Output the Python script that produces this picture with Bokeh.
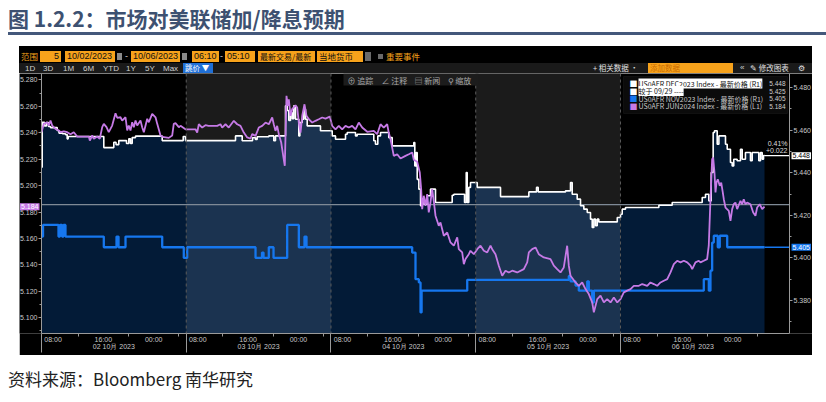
from bokeh.plotting import figure
from bokeh.models import (Range1d, LinearAxis, FixedTicker, SingleIntervalTicker,
                          NumeralTickFormatter, CustomJSTickFormatter, Span, Label,
                          BoxAnnotation, Div)
from bokeh.layouts import column
from bokeh.embed import file_html
from bokeh.resources import INLINE

# ---------------- data ----------------
# time axis: session hours since 02 Oct 2023 06:10 (each session 06:10-05:10 = 23 h)
SESSION_HOURS = 23
SESSION_START_MIN = 6 * 60 + 10
day_labels = ["02 10月 2023", "03 10月 2023", "04 10月 2023", "05 10月 2023", "06 10月 2023"]
time_label_clock = [8, 16, 0]
minor_tick_clock = [12, 20, 4]

# US0AFR DEC2023 Index (R1)
dec_t = [0.00, 0.11, 0.48, 0.79, 1.11, 1.43, 2.49, 2.78, 3.34, 3.81, 4.08, 4.24, 9.90, 11.49,
         11.84, 12.28, 13.51, 13.87, 14.14, 14.41, 14.94, 19.18, 22.52, 22.88, 30.83, 31.89,
         33.53, 34.01, 34.27, 36.12, 36.91, 37.18, 38.77, 39.04, 39.30, 39.57, 39.84, 40.09,
         40.36, 40.89, 41.05, 41.43, 41.68, 41.95, 42.22, 44.33, 46.19, 46.72, 48.31, 48.58,
         49.90, 50.16, 52.80, 53.07, 53.44, 53.87, 55.18, 55.73, 59.16, 59.32, 59.54, 59.70,
         59.96, 60.23, 60.49, 60.75, 61.29, 61.81, 62.61, 65.26, 65.52, 67.22, 67.49, 67.65,
         67.90, 68.17, 69.24, 72.94, 77.44, 78.66, 78.93, 83.27, 84.06, 84.33, 85.12, 85.65,
         86.18, 86.72, 87.24, 87.51, 87.77, 88.04, 88.31, 88.56, 91.49, 92.01, 92.28, 92.80,
         98.10, 100.22, 104.99, 105.51, 106.04, 106.42, 106.73, 106.94, 107.37, 107.64,
         108.69, 108.96, 109.48, 109.75, 110.00, 110.54, 111.07, 111.34, 111.86, 112.66,
         112.93, 113.98, 114.25, 114.52, 114.73, 114.89]
dec_v = [5.4426, 5.4637, 5.4620, 5.4636, 5.4617, 5.4612, 5.4598, 5.4586, 5.4583, 5.4579, 5.4559,
         5.4570, 5.4518, 5.4543, 5.4532, 5.4551, 5.4537, 5.4559, 5.4537, 5.4565, 5.4572, 5.4551,
         5.4570, 5.4551, 5.4573, 5.4550, 5.4564, 5.4556, 5.4569, 5.4573, 5.4550, 5.4573, 5.4714,
         5.4692, 5.4645, 5.4683, 5.4654, 5.4714, 5.4651, 5.4573, 5.4636, 5.4651, 5.4698, 5.4651,
         5.4620, 5.4597, 5.4573, 5.4557, 5.4581, 5.4589, 5.4573, 5.4581, 5.4550, 5.4534, 5.4573,
         5.4589, 5.4565, 5.4526, 5.4542, 5.4432, 5.4495, 5.4369, 5.4323, 5.4245, 5.4276, 5.4252,
         5.4292, 5.4323, 5.4260, 5.4294, 5.4299, 5.4260, 5.4401, 5.4260, 5.4331, 5.4354, 5.4331,
         5.4288, 5.4310, 5.4331, 5.4310, 5.4315, 5.4354, 5.4299, 5.4276, 5.4245, 5.4229, 5.4213,
         5.4182, 5.4143, 5.4182, 5.4151, 5.4182, 5.4169, 5.4190, 5.4205, 5.4229, 5.4237, 5.4247,
         5.4260, 5.4284, 5.4299, 5.4268, 5.4401, 5.4589, 5.4597, 5.4534, 5.4573, 5.4534, 5.4510,
         5.4448, 5.4432, 5.4463, 5.4456, 5.4510, 5.4463, 5.4495, 5.4456, 5.4495, 5.4456, 5.4495,
         5.4463, 5.4481, 5.4480]

# US0AFR NOV2023 Index (R1)
nov_t = [0.00, 0.24, 2.70, 2.94, 3.26, 3.50, 3.81, 9.90, 11.92, 12.24, 13.35, 19.18, 22.61,
         23.15, 34.01, 35.04, 35.28, 36.12, 36.87, 39.04, 40.89, 41.79, 42.11, 58.90, 59.43,
         59.96, 60.23, 60.40, 67.65, 83.79, 84.06, 84.86, 85.38, 86.72, 86.97, 87.51, 87.77,
         105.24, 106.04, 106.30, 106.57, 106.83, 107.46, 107.78, 108.96, 114.89]
nov_v = [5.4100, 5.4155, 5.4100, 5.4155, 5.4100, 5.4155, 5.4100, 5.4050, 5.4100, 5.4050, 5.4100,
         5.4050, 5.4000, 5.4050, 5.4000, 5.4025, 5.4000, 5.4050, 5.4000, 5.4155, 5.4050, 5.4100,
         5.4050, 5.4025, 5.3900, 5.3885, 5.3744, 5.3846, 5.3897, 5.3915, 5.3890, 5.3870, 5.3846,
         5.3890, 5.3846, 5.3790, 5.3846, 5.3900, 5.3846, 5.3940, 5.4072, 5.4104, 5.4050, 5.4104,
         5.4050, 5.4050]

# US0AFR JUN2024 Index (L1)
jun_t = [0.00, 0.37, 0.91, 1.16, 1.43, 1.70, 2.22, 2.75, 3.02, 3.54, 4.08, 4.61, 5.13, 5.67,
         7.52, 7.68, 8.06, 8.31, 8.85, 9.26, 9.65, 9.90, 10.33, 10.69, 11.23, 11.76, 12.03,
         12.55, 12.82, 13.35, 13.62, 13.87, 14.14, 14.41, 14.67, 14.94, 15.21, 15.73, 16.00,
         16.26, 16.53, 16.80, 17.05, 17.59, 18.12, 18.39, 18.91, 19.43, 20.23, 20.77, 21.02,
         21.29, 21.82, 22.09, 22.88, 23.15, 24.47, 24.74, 25.00, 25.53, 26.06, 26.54, 27.92,
         28.44, 28.71, 29.24, 29.76, 30.56, 31.10, 31.62, 32.15, 32.69, 33.21, 33.48, 34.01,
         34.53, 35.07, 35.60, 36.12, 36.66, 36.91, 37.18, 37.45, 37.71, 38.09, 38.41, 38.66,
         38.93, 39.14, 39.30, 39.57, 39.84, 40.36, 40.63, 40.89, 41.16, 41.43, 41.79, 42.11,
         42.48, 43.02, 43.54, 44.06, 44.61, 45.13, 45.81, 46.19, 46.72, 47.24, 47.78, 48.31,
         48.83, 49.37, 49.90, 50.42, 50.96, 51.76, 52.80, 53.34, 53.87, 54.39, 54.93, 55.18,
         55.46, 55.98, 56.52, 57.05, 57.84, 58.37, 58.91, 59.16, 59.70, 60.11, 60.33, 60.49,
         60.75, 61.02, 61.29, 61.54, 61.81, 62.08, 62.33, 62.61, 63.13, 63.40, 63.93, 64.47,
         64.99, 65.52, 66.06, 66.31, 66.85, 67.11, 67.38, 67.90, 68.17, 68.70, 69.24, 69.76,
         70.29, 70.83, 71.35, 71.62, 72.14, 72.67, 73.21, 73.73, 74.26, 74.80, 75.59, 76.64,
         77.18, 77.44, 77.97, 78.50, 79.02, 79.82, 80.88, 81.41, 81.94, 82.47, 82.99, 83.53,
         83.79, 84.06, 84.86, 85.38, 85.92, 86.45, 86.97, 87.51, 87.77, 88.31, 88.83, 89.36,
         89.89, 90.42, 90.95, 91.49, 92.01, 92.53, 93.07, 93.60, 94.12, 94.92, 95.46, 96.25,
         96.77, 97.30, 97.83, 98.36, 98.89, 99.43, 99.95, 100.48, 101.01, 101.54, 102.07,
         102.61, 103.13, 103.40, 103.92, 104.45, 104.72, 105.24, 105.77, 106.03, 106.30,
         106.57, 106.73, 106.94, 107.10, 107.26, 107.46, 107.78, 108.01, 108.26, 108.42,
         108.69, 109.21, 109.48, 109.75, 110.00, 110.27, 110.54, 111.07, 111.34, 111.59,
         111.86, 112.13, 112.66, 113.09, 113.45, 113.72, 114.13, 114.52, 114.89]
jun_v = [5.2404, 5.2467, 5.2479, 5.2454, 5.2492, 5.2454, 5.2429, 5.2417, 5.2404, 5.2411, 5.2404,
         5.2389, 5.2404, 5.2371, 5.2371, 5.2341, 5.2379, 5.2354, 5.2371, 5.2354, 5.2442, 5.2467,
         5.2442, 5.2404, 5.2454, 5.2547, 5.2513, 5.2517, 5.2492, 5.2517, 5.2417, 5.2454, 5.2417,
         5.2479, 5.2442, 5.2492, 5.2454, 5.2492, 5.2442, 5.2404, 5.2454, 5.2505, 5.2479, 5.2543,
         5.2517, 5.2467, 5.2379, 5.2366, 5.2361, 5.2379, 5.2467, 5.2472, 5.2442, 5.2452, 5.2426,
         5.2426, 5.2426, 5.2401, 5.2464, 5.2439, 5.2457, 5.2452, 5.2452, 5.2464, 5.2439, 5.2464,
         5.2439, 5.2490, 5.2464, 5.2452, 5.2401, 5.2364, 5.2356, 5.2389, 5.2376, 5.2439, 5.2452,
         5.2477, 5.2464, 5.2515, 5.2464, 5.2414, 5.2452, 5.2389, 5.2326, 5.2225, 5.2150, 5.2679,
         5.2603, 5.2653, 5.2528, 5.2578, 5.2608, 5.2590, 5.2477, 5.2401, 5.2528, 5.2615, 5.2528,
         5.2502, 5.2477, 5.2490, 5.2502, 5.2515, 5.2507, 5.2522, 5.2452, 5.2426, 5.2452, 5.2426,
         5.2452, 5.2439, 5.2452, 5.2426, 5.2477, 5.2439, 5.2407, 5.2414, 5.2389, 5.2464, 5.2439,
         5.2464, 5.2401, 5.2351, 5.2225, 5.2237, 5.2205, 5.2225, 5.2237, 5.2250, 5.2195, 5.2180,
         5.2099, 5.1973, 5.1822, 5.1923, 5.1847, 5.1935, 5.1797, 5.1872, 5.1973, 5.1885, 5.1772,
         5.1696, 5.1721, 5.1620, 5.1645, 5.1570, 5.1545, 5.1608, 5.1519, 5.1494, 5.1406, 5.1444,
         5.1481, 5.1507, 5.1481, 5.1519, 5.1545, 5.1507, 5.1494, 5.1545, 5.1519, 5.1481, 5.1394,
         5.1318, 5.1356, 5.1343, 5.1356, 5.1343, 5.1368, 5.1419, 5.1494, 5.1519, 5.1532, 5.1481,
         5.1456, 5.1444, 5.1394, 5.1368, 5.1343, 5.1381, 5.1545, 5.1394, 5.1318, 5.1267, 5.1242,
         5.1267, 5.1217, 5.1179, 5.1116, 5.1041, 5.1141, 5.1167, 5.1116, 5.1141, 5.1116, 5.1154,
         5.1116, 5.1141, 5.1192, 5.1205, 5.1217, 5.1242, 5.1242, 5.1255, 5.1242, 5.1267, 5.1255,
         5.1242, 5.1267, 5.1280, 5.1292, 5.1343, 5.1406, 5.1431, 5.1419, 5.1431, 5.1419, 5.1394,
         5.1368, 5.1419, 5.1431, 5.1419, 5.1431, 5.1444, 5.1545, 5.1897, 5.2200, 5.2212, 5.2099,
         5.1948, 5.2023, 5.2048, 5.1998, 5.2023, 5.1948, 5.1897, 5.1834, 5.1809, 5.1734, 5.1822,
         5.1859, 5.1872, 5.1822, 5.1885, 5.1859, 5.1897, 5.1859, 5.1872, 5.1859, 5.1797, 5.1772,
         5.1834, 5.1859, 5.1822, 5.1840]

ref_0929 = 5.425          # "较于 09/29" reference level (R1)
change_pct = "0.41%"
change_abs = "+0.022"

left_range = (5.0881, 5.2848)
right_range = (5.3645, 5.4866)
x_extent = (0.0, 118.86)      # time span between the two value axes

# ---------------- helpers ----------------
def stepify(t, v):
    xs, ys = [t[0]], [v[0]]
    for i in range(1, len(t)):
        xs += [t[i], t[i]]
        ys += [v[i - 1], v[i]]
    return xs, ys


def day_step(t, v, a, b):
    b = min(b, t[-1])
    k = 0
    for i, ti in enumerate(t):
        if ti <= a:
            k = i
    xs, ys = [a], [v[k]]
    for ti, vi in zip(t, v):
        if a < ti < b:
            xs += [ti, ti]
            ys += [ys[-1], vi]
    xs.append(b)
    ys.append(ys[-1])
    return xs, ys


def clock_to_h(hh):
    return ((hh * 60 - SESSION_START_MIN) % 1440) / 60.0


n_days = len(day_labels)
bounds = [d * SESSION_HOURS for d in range(n_days)]
time_ticks = [b + clock_to_h(c) for b in bounds for c in time_label_clock]
minor_time = [b + clock_to_h(c) for b in bounds for c in minor_tick_clock]
date_ticks = [b + SESSION_HOURS / 2 for b in bounds]

# page-pixel geometry: value axes at x=41 / 789, frame spans the whole panel 19..812
PANEL_L, PANEL_R = 19, 812
FL, FR, FT, FB = 41, 789, 73, 333
H_PER_PX = (x_extent[1] - x_extent[0]) / (FR - FL)
x_frame = (x_extent[0] - (FL - PANEL_L) * H_PER_PX, x_extent[1] + (PANEL_R - FR) * H_PER_PX)


def X(px):
    return x_extent[0] + (px - FL) * H_PER_PX


def YL(py):
    return left_range[1] - (py - FT) / (FB - FT) * (left_range[1] - left_range[0])


def YR(py):
    return right_range[1] - (py - FT) / (FB - FT) * (right_range[1] - right_range[0])


CJK = "Noto Sans CJK SC"
NUM = "Liberation Sans"
AX_COL = "#9a9a9a"
LBL_COL = "#c8c8c8"
WHITE = "#ffffff"
BLUE = "#1677ee"
PURPLE = "#c67ae6"

# ---------------- figure ----------------
p = figure(width=PANEL_R - PANEL_L, height=282, output_backend="svg", toolbar_location=None,
           x_range=Range1d(*x_frame), y_range=Range1d(*left_range),
           x_axis_location=None, y_axis_location=None,
           min_border_left=0, min_border_right=0, min_border_top=0, min_border_bottom=22,
           background_fill_color="black", border_fill_color="black",
           outline_line_color=None, margin=(0, 0, 0, PANEL_L))
p.grid.visible = False
p.extra_y_ranges = {"r": Range1d(*right_range)}


def style_axis(ax, size="7px", font=NUM):
    ax.axis_line_color = AX_COL
    ax.major_tick_line_color = AX_COL
    ax.minor_tick_line_color = AX_COL
    ax.major_label_text_color = LBL_COL
    ax.major_label_text_font = font
    ax.major_label_text_font_size = size
    ax.major_tick_in = 0
    ax.minor_tick_in = 0


yl = LinearAxis(fixed_location=x_extent[0],
                ticker=SingleIntervalTicker(interval=0.02, num_minor_ticks=2),
                formatter=NumeralTickFormatter(format="0.000"))
style_axis(yl)
yl.major_tick_out = 3
yl.minor_tick_out = 2
yl.major_label_standoff = 1
p.add_layout(yl, "left")

yr = LinearAxis(y_range_name="r", fixed_location=x_extent[1],
                ticker=SingleIntervalTicker(interval=0.02, num_minor_ticks=2),
                formatter=NumeralTickFormatter(format="0.000"))
style_axis(yr)
yr.major_tick_out = 3
yr.minor_tick_out = 2
yr.major_label_standoff = 1
p.add_layout(yr, "right")

time_fmt = CustomJSTickFormatter(args=dict(start=SESSION_START_MIN, n=SESSION_HOURS), code="""
const m = Math.round((((tick % n) + n) % n) * 60) + start;
const hh = Math.floor(m / 60) % 24, mm = m % 60;
return String(hh).padStart(2, '0') + ':' + String(mm).padStart(2, '0');
""")
xa = LinearAxis(ticker=FixedTicker(ticks=time_ticks, minor_ticks=minor_time), formatter=time_fmt,
                bounds=x_extent)
style_axis(xa)
xa.major_tick_out = 0
xa.minor_tick_out = 3
xa.major_label_standoff = -1
p.add_layout(xa, "below")

date_fmt = CustomJSTickFormatter(args=dict(labels=day_labels, n=SESSION_HOURS), code="""
return labels[Math.floor(tick / n)] || '';
""")
xb = LinearAxis(ticker=FixedTicker(ticks=date_ticks, minor_ticks=bounds), formatter=date_fmt,
                bounds=x_extent)
style_axis(xb)
xb.axis_line_color = None
xb.major_tick_out = 0
xb.minor_tick_in = 12
xb.minor_tick_out = 7
xb.major_label_standoff = -10
p.add_layout(xb, "below")

# day bands above the DEC2023 area (alternate sessions are grey)
band_l = [b for i, b in enumerate(bounds) if i % 2 == 1]
band_r = [min(b + SESSION_HOURS, dec_t[-1]) for b in band_l]
p.quad(left=band_l, right=band_r, bottom=left_range[0], top=left_range[1],
       fill_color="#1b1b1b", line_color=None)

# filled area under DEC2023, coloured per session
for i, b in enumerate(bounds):
    xs, ys = day_step(dec_t, dec_v, b, b + SESSION_HOURS)
    p.varea(x=xs, y1=right_range[0], y2=ys, y_range_name="r",
            fill_color="#1b3350" if i % 2 else "#031b37")

for b in bounds[1:]:
    p.add_layout(Span(location=b, dimension="height", line_color="#5c5c5c",
                      line_dash="3 3", line_width=1))

# 09/29 reference level
p.line(list(x_extent), [ref_0929, ref_0929], y_range_name="r",
       line_color="#7f8a96", line_width=1.3)

# series
wx, wy = stepify(dec_t, dec_v)
p.line(wx, wy, y_range_name="r", line_color=WHITE, line_width=1.6)
p.line([dec_t[-1], x_extent[1]], [dec_v[-1], dec_v[-1]], y_range_name="r",
       line_color=WHITE, line_width=1.3)

bx, by = stepify(nov_t, nov_v)
p.line(bx, by, y_range_name="r", line_color=BLUE, line_width=2.3)
p.line([nov_t[-1], x_extent[1]], [nov_v[-1], nov_v[-1]], y_range_name="r",
       line_color=BLUE, line_width=1.3)

p.line(jun_t, jun_v, line_color=PURPLE, line_width=1.8)

# last-value tags on the value axes
p.add_layout(Label(x=x_extent[1], y=dec_v[-1], y_range_name="r", text=f"{dec_v[-1]:.3f}",
                   x_offset=2, text_baseline="middle", text_font=NUM, text_font_size="7px",
                   text_color="black", background_fill_color="white", padding=1))
p.add_layout(Label(x=x_extent[1], y=nov_v[-1], y_range_name="r", text=f"{nov_v[-1]:.3f}",
                   x_offset=2, text_baseline="middle", text_font=NUM, text_font_size="7px",
                   text_color="white", background_fill_color=BLUE, padding=1))
p.add_layout(Label(x=x_extent[0], y=jun_v[-1], text=f"{jun_v[-1]:.3f}",
                   x_offset=-2, text_align="right", text_baseline="middle", text_font=NUM,
                   text_font_size="7px", text_color="white", background_fill_color=PURPLE,
                   padding=1))
p.add_layout(Label(x=X(787), y=YR(143), y_range_name="r", text=change_pct, text_align="right",
                   text_baseline="middle", text_font=NUM, text_font_size="7px",
                   text_color="#dddddd"))
p.add_layout(Label(x=X(787), y=YR(150), y_range_name="r", text=change_abs, text_align="right",
                   text_baseline="middle", text_font=NUM, text_font_size="7px",
                   text_color="#dddddd"))

# in-chart toolbar strip
p.add_layout(BoxAnnotation(left=X(343), right=X(478), top=YL(73), bottom=YL(85),
                           fill_color="#1c1c1c", fill_alpha=1, line_color=None))
for px, t in [(347, "⊕ 追踪"), (381, "∠ 注释"), (414, "▤ 新闻"), (447, "⚲ 缩放")]:
    p.add_layout(Label(x=X(px), y=YL(79.5), text=t, text_baseline="middle", text_font=CJK,
                       text_font_size="8px", text_color="#a8a8a8"))

# legend panel
p.add_layout(BoxAnnotation(left=X(623), right=X(787), top=YL(76), bottom=YL(113),
                           fill_color="#0b0b0b", fill_alpha=1, line_color="#2a2a2a"))
legend_rows = [
    ("US0AFR DEC2023 Index - 最新价格 (R1)", WHITE, f"{dec_v[-1]:.3f}", True),
    ("较于 09/29 ----", WHITE, f"{ref_0929:.3f}", True),
    ("US0AFR NOV2023 Index - 最新价格 (R1)", BLUE, f"{nov_v[-1]:.3f}", False),
    ("US0AFR JUN2024 Index - 最新价格 (L1)", PURPLE, f"{jun_v[-1]:.3f}", False),
]
for i, (txt_, col, val, hi) in enumerate(legend_rows):
    yy = YL(83 + i * 7.6)
    p.add_layout(Label(x=X(629), y=yy, text="■", text_baseline="middle", text_font=CJK,
                       text_font_size="8px", text_color=col))
    p.add_layout(Label(x=X(638), y=yy, text=txt_, text_baseline="middle", text_font=CJK,
                       text_font_size="7px",
                       text_color="#111111" if hi else "#c8c8c8",
                       background_fill_color="white" if hi else None, padding=0))
    p.add_layout(Label(x=X(785), y=yy, text=val, text_align="right", text_baseline="middle",
                       text_font=NUM, text_font_size="6.5px", text_color="#d0d0d0"))

# ---------------- HTML parts ----------------
ORANGE = "#f7a21b"


def box(left, top, w, h, text, bg="transparent", color="#111", align="left", size=9, font=NUM):
    return (f'<div style="position:absolute;left:{left}px;top:{top}px;width:{w}px;height:{h}px;'
            f'background:{bg};color:{color};font-family:\'{font}\';font-size:{size}px;'
            f'line-height:{h}px;text-align:{align};white-space:nowrap;overflow:hidden;'
            f'padding:0 2px;box-sizing:border-box">{text}</div>')


def txt(left, top, h, text, color, size=8, font=NUM):
    return (f'<div style="position:absolute;left:{left}px;top:{top}px;height:{h}px;'
            f'color:{color};font-family:\'{font}\';font-size:{size}px;line-height:{h}px;'
            f'white-space:nowrap">{text}</div>')


row1 = [
    txt(2, 5, 11, "范围", ORANGE, 8.5, CJK),
    box(21, 5, 21, 11, "5", bg=ORANGE, align="right"),
    box(46, 5, 50, 11, "10/02/2023", bg=ORANGE),
    box(98, 7, 5, 7, "", bg="#8a8a8a"),
    txt(106, 5, 11, "-", "#cccccc", 9),
    box(112, 5, 49, 11, "10/06/2023", bg=ORANGE),
    box(163, 7, 5, 7, "", bg="#8a8a8a"),
    box(173, 5, 27, 11, "06:10", bg=ORANGE),
    txt(201, 5, 11, "-", "#cccccc", 9),
    box(206, 5, 30, 11, "05:10", bg=ORANGE),
    box(239, 5, 57, 11, "最新交易/最新", bg=ORANGE, size=8, font=CJK),
    box(298, 5, 46, 11, "当地货币", bg=ORANGE, size=8.5, font=CJK),
    box(346, 6, 6, 9, "", bg="#6a6a6a"),
    box(359, 8, 5, 5, "", bg="#6a6a6a"),
    txt(367, 5, 11, "重要事件", ORANGE, 8.5, CJK),
]
row2 = ['<div style="position:absolute;left:0;top:17px;width:793px;height:10px;background:#1a1a1a"></div>']
for px, t in [(6, "1D"), (24, "3D"), (44, "1M"), (64, "6M"), (84, "YTD"), (107, "1Y"),
              (126, "5Y"), (144, "Max")]:
    row2.append(txt(px, 17, 11, t, "#d0d0d0", 8))
row2 += [
    box(164, 17, 30, 10, "跳价 ▼", bg="#1f6fd6", color="white", size=7.5, font=CJK),
    txt(574, 17, 10, "+ 相关数据 ·", "#e0e0e0", 7.5, CJK),
    box(629, 17, 85, 10, "添加数据", bg=ORANGE, color="#c86a00", size=7.5, font=CJK),
    txt(721, 17, 10, "«", "#d0d0d0", 8),
    txt(731, 17, 10, "✎ 修改图表", "#e0e0e0", 7.5, CJK),
    txt(779, 17, 10, "⚙", "#e0e0e0", 8, CJK),
]
header = Div(text='<div style="position:relative;width:793px;height:27px;background:#000">'
             + "".join(row1 + row2) + "</div>",
             width=PANEL_R - PANEL_L, height=27, margin=(0, 0, 0, PANEL_L))

title = Div(text=('<div style="position:relative;width:818px;height:38px">'
                  f'<div style="position:absolute;left:0;top:0;font-family:\'{CJK}\';'
                  'font-weight:bold;font-size:21px;line-height:20px;color:#3d5171;'
                  'white-space:nowrap">图 1.2.2：市场对美联储加/降息预期</div>'
                  '<div style="position:absolute;left:0;top:24px;width:818px;height:3px;'
                  'background:#44587b"></div></div>'),
            width=818, height=38, margin=(8, 0, 0, 8))

source = Div(text=('<div style="position:relative;width:810px;height:47px">'
                   f'<div style="position:absolute;left:0;top:14px;font-family:\'{CJK}\';'
                   'font-size:17px;line-height:20px;color:#222;white-space:nowrap">'
                   '资料来源：Bloomberg 南华研究</div></div>'),
             width=810, height=47, margin=(0, 0, 0, 8))

layout = column(title, header, p, source, spacing=0)

with open("out.html", "w") as f:
    f.write(file_html(layout, INLINE))
